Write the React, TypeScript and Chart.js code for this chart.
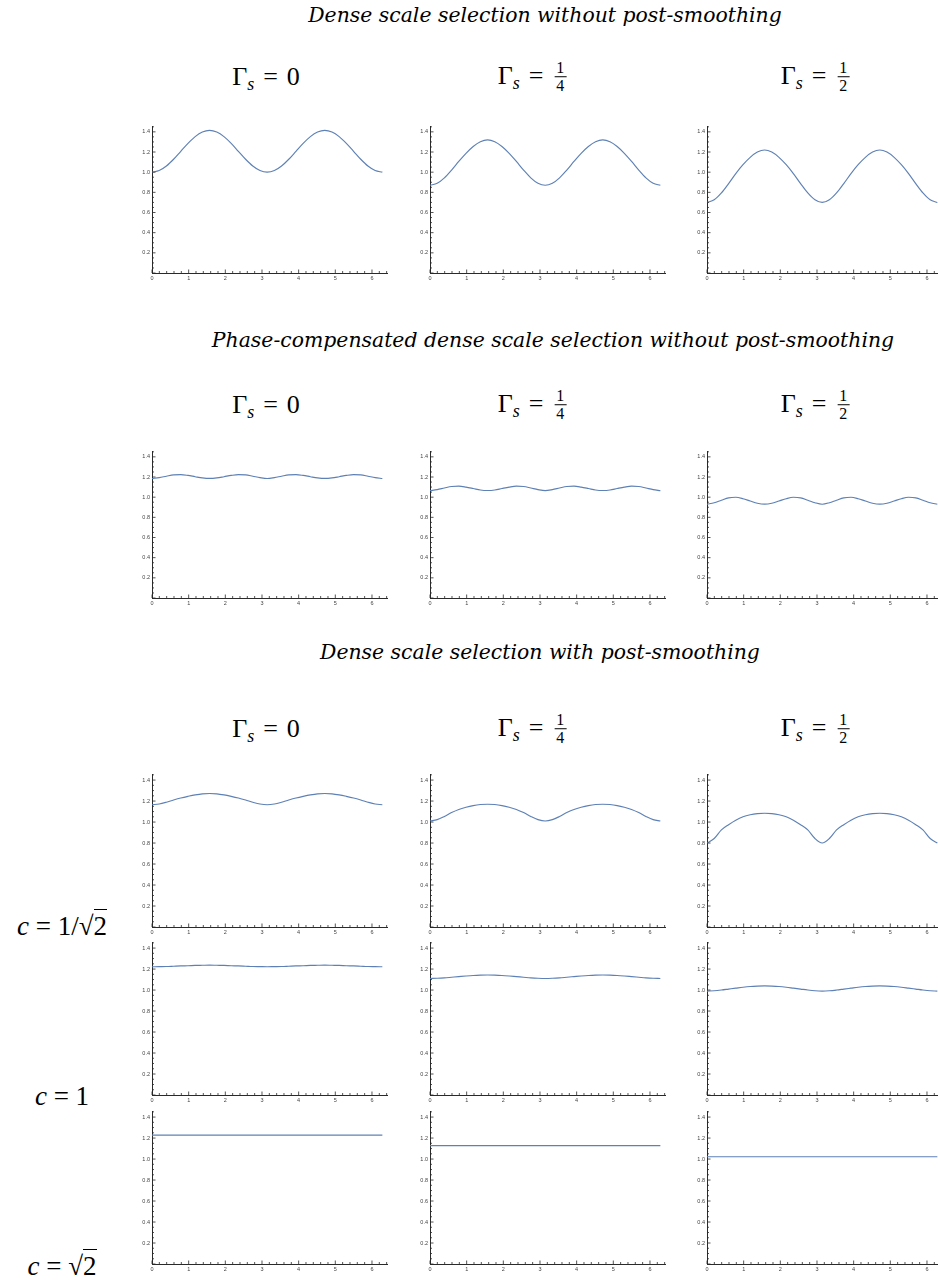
import React, { useEffect, useRef } from "react";
import { Chart, registerables } from "chart.js";

Chart.register(...registerables);

// ---------- data ----------
const THETA = [
  0, 0.196, 0.393, 0.589, 0.785, 0.982, 1.178, 1.374, 1.571, 1.767, 1.963, 2.16, 2.356, 2.553, 2.749, 2.945,
  3.142, 3.338, 3.534, 3.731, 3.927, 4.123, 4.32, 4.516, 4.712, 4.909, 5.105, 5.301, 5.498, 5.694, 5.89, 6.087, 6.283,
];

const X_TICKS = [0, 1, 2, 3, 4, 5, 6];
const X_TICK_LABELS = ["0", "1", "2", "3", "4", "5", "6"];
const Y_TICKS = [0.2, 0.4, 0.6, 0.8, 1.0, 1.2, 1.4];
const Y_TICK_LABELS = ["0.2", "0.4", "0.6", "0.8", "1.0", "1.2", "1.4"];

// Dense scale selection without post-smoothing
const R1_G0 = [1.0, 1.016, 1.061, 1.128, 1.207, 1.286, 1.353, 1.398, 1.414, 1.398, 1.353, 1.286, 1.207, 1.128, 1.061, 1.016, 1.0, 1.016, 1.061, 1.128, 1.207, 1.286, 1.353, 1.398, 1.414, 1.398, 1.353, 1.286, 1.207, 1.128, 1.061, 1.016, 1.0];
const R1_G1 = [0.87, 0.89, 0.944, 1.021, 1.106, 1.187, 1.255, 1.302, 1.32, 1.302, 1.255, 1.187, 1.106, 1.021, 0.944, 0.89, 0.87, 0.89, 0.944, 1.021, 1.106, 1.187, 1.255, 1.302, 1.32, 1.302, 1.255, 1.187, 1.106, 1.021, 0.944, 0.89, 0.87];
const R1_G2 = [0.7, 0.726, 0.794, 0.887, 0.986, 1.074, 1.147, 1.199, 1.22, 1.199, 1.147, 1.074, 0.986, 0.887, 0.794, 0.726, 0.7, 0.726, 0.794, 0.887, 0.986, 1.074, 1.147, 1.199, 1.22, 1.199, 1.147, 1.074, 0.986, 0.887, 0.794, 0.726, 0.7];

// Phase-compensated dense scale selection without post-smoothing
const R2_G0 = [1.185, 1.194, 1.208, 1.221, 1.224, 1.216, 1.203, 1.191, 1.186, 1.191, 1.203, 1.216, 1.224, 1.221, 1.208, 1.194, 1.185, 1.194, 1.208, 1.221, 1.224, 1.216, 1.203, 1.191, 1.186, 1.191, 1.203, 1.216, 1.224, 1.221, 1.208, 1.194, 1.185];
const R2_G1 = [1.065, 1.075, 1.091, 1.106, 1.109, 1.1, 1.086, 1.071, 1.066, 1.071, 1.086, 1.1, 1.109, 1.106, 1.091, 1.075, 1.065, 1.075, 1.091, 1.106, 1.109, 1.1, 1.086, 1.071, 1.066, 1.071, 1.086, 1.1, 1.109, 1.106, 1.091, 1.075, 1.065];
const R2_G2 = [0.93, 0.945, 0.97, 0.993, 0.999, 0.985, 0.962, 0.94, 0.931, 0.94, 0.962, 0.985, 0.999, 0.993, 0.97, 0.945, 0.93, 0.945, 0.97, 0.993, 0.999, 0.985, 0.962, 0.94, 0.931, 0.94, 0.962, 0.985, 0.999, 0.993, 0.97, 0.945, 0.93];

// Dense scale selection with post-smoothing, c = 1/sqrt(2)
const R3A_G0 = [1.165, 1.172, 1.189, 1.21, 1.229, 1.245, 1.259, 1.269, 1.272, 1.269, 1.259, 1.245, 1.229, 1.21, 1.189, 1.172, 1.165, 1.172, 1.189, 1.21, 1.229, 1.245, 1.259, 1.269, 1.272, 1.269, 1.259, 1.245, 1.229, 1.21, 1.189, 1.172, 1.165];
const R3A_G1 = [1.01, 1.023, 1.053, 1.09, 1.12, 1.141, 1.157, 1.167, 1.17, 1.167, 1.157, 1.141, 1.12, 1.09, 1.053, 1.023, 1.01, 1.023, 1.053, 1.09, 1.12, 1.141, 1.157, 1.167, 1.17, 1.167, 1.157, 1.141, 1.12, 1.09, 1.053, 1.023, 1.01];
const R3A_G2 = [0.8, 0.843, 0.925, 0.975, 1.018, 1.05, 1.069, 1.08, 1.084, 1.08, 1.069, 1.05, 1.018, 0.975, 0.925, 0.843, 0.8, 0.843, 0.925, 0.975, 1.018, 1.05, 1.069, 1.08, 1.084, 1.08, 1.069, 1.05, 1.018, 0.975, 0.925, 0.843, 0.8];

// c = 1
const R3B_G0 = [1.222, 1.223, 1.224, 1.227, 1.23, 1.232, 1.235, 1.236, 1.237, 1.236, 1.235, 1.232, 1.23, 1.227, 1.224, 1.223, 1.222, 1.223, 1.224, 1.227, 1.23, 1.232, 1.235, 1.236, 1.237, 1.236, 1.235, 1.232, 1.23, 1.227, 1.224, 1.223, 1.222];
const R3B_G1 = [1.11, 1.112, 1.116, 1.122, 1.128, 1.134, 1.139, 1.142, 1.143, 1.142, 1.139, 1.134, 1.128, 1.122, 1.116, 1.112, 1.11, 1.112, 1.116, 1.122, 1.128, 1.134, 1.139, 1.142, 1.143, 1.142, 1.139, 1.134, 1.128, 1.122, 1.116, 1.112, 1.11];
const R3B_G2 = [0.99, 0.993, 1.0, 1.009, 1.018, 1.027, 1.034, 1.038, 1.04, 1.038, 1.034, 1.027, 1.018, 1.009, 1.0, 0.993, 0.99, 0.993, 1.0, 1.009, 1.018, 1.027, 1.034, 1.038, 1.04, 1.038, 1.034, 1.027, 1.018, 1.009, 1.0, 0.993, 0.99];

// c = sqrt(2)
const R3C_G0 = [1.228, 1.228, 1.228, 1.228, 1.228, 1.228, 1.228, 1.228, 1.228, 1.228, 1.228, 1.228, 1.228, 1.228, 1.228, 1.228, 1.228, 1.228, 1.228, 1.228, 1.228, 1.228, 1.228, 1.228, 1.228, 1.228, 1.228, 1.228, 1.228, 1.228, 1.228, 1.228, 1.228];
const R3C_G1 = [1.128, 1.128, 1.128, 1.128, 1.128, 1.128, 1.128, 1.128, 1.128, 1.128, 1.128, 1.128, 1.128, 1.128, 1.128, 1.128, 1.128, 1.128, 1.128, 1.128, 1.128, 1.128, 1.128, 1.128, 1.128, 1.128, 1.128, 1.128, 1.128, 1.128, 1.128, 1.128, 1.128];
const R3C_G2 = [1.022, 1.022, 1.022, 1.022, 1.022, 1.022, 1.022, 1.022, 1.022, 1.022, 1.022, 1.022, 1.022, 1.022, 1.022, 1.022, 1.022, 1.022, 1.022, 1.022, 1.022, 1.022, 1.022, 1.022, 1.022, 1.022, 1.022, 1.022, 1.022, 1.022, 1.022, 1.022, 1.022];

const SECTION_TITLES = [
  "Dense scale selection without post-smoothing",
  "Phase-compensated dense scale selection without post-smoothing",
  "Dense scale selection with post-smoothing",
];

// ---------- layout ----------
const X_MAX = 6.41;
const Y_MAX = 1.455;
const PX_PER_X = 36.67;
const COL_LEFT = [152.3, 429.8, 707.3];
const ROW_BOTTOM = [273.3, 598.3, 926.7, 1095, 1264];
const ROW_PX_PER_Y = [102, 102, 105.5, 105.5, 106];
const ROW_SERIES = [
  [R1_G0, R1_G1, R1_G2],
  [R2_G0, R2_G1, R2_G2],
  [R3A_G0, R3A_G1, R3A_G2],
  [R3B_G0, R3B_G1, R3B_G2],
  [R3C_G0, R3C_G1, R3C_G2],
];

const PAD_L = 22;
const PAD_R = 4;
const PAD_T = 4;
const PAD_B = 12;
const AXIS_COLOR = "#2a2a2a";
const LINE_COLOR = "#5E81B5";

const inwardTicks = {
  id: "inwardTicks",
  afterDraw(chart: any) {
    const { ctx, scales } = chart;
    const xs = scales.x;
    const ys = scales.y;
    const x0 = xs.getPixelForValue(0);
    const y0 = ys.getPixelForValue(0);
    ctx.save();
    ctx.strokeStyle = AXIS_COLOR;
    ctx.lineWidth = 0.8;
    ctx.beginPath();
    for (let k = 0; k <= 32; k++) {
      const v = k * 0.2;
      if (v > X_MAX) break;
      const px = xs.getPixelForValue(v);
      const len = k % 5 === 0 ? 3.5 : 2;
      ctx.moveTo(px, y0);
      ctx.lineTo(px, y0 - len);
    }
    for (let k = 0; k <= 29; k++) {
      const v = k * 0.05;
      if (v > Y_MAX) break;
      const py = ys.getPixelForValue(v);
      const len = k % 4 === 0 ? 3.5 : 2;
      ctx.moveTo(x0, py);
      ctx.lineTo(x0 + len, py);
    }
    ctx.stroke();
    ctx.restore();
  },
};

function Panel({ series, left, bottom, pxPerY }: { series: number[]; left: number; bottom: number; pxPerY: number }) {
  const ref = useRef<HTMLCanvasElement>(null);
  const W = Math.round(X_MAX * PX_PER_X);
  const H = Math.round(Y_MAX * pxPerY);
  const cw = W + PAD_L + PAD_R;
  const ch = H + PAD_T + PAD_B;
  const canvasLeft = Math.round(left - PAD_L);
  const canvasTop = Math.round(bottom - H - PAD_T);

  useEffect(() => {
    const tickFont = { size: 5.5, family: '"Liberation Sans", Arial, sans-serif' };
    const chart = new Chart(ref.current as HTMLCanvasElement, {
      type: "line",
      data: {
        datasets: [
          {
            data: THETA.map((t, i) => ({ x: t, y: series[i] })),
            borderColor: LINE_COLOR,
            borderWidth: 1.15,
            pointRadius: 0,
            cubicInterpolationMode: "monotone",
            fill: false,
          },
        ],
      },
      options: {
        responsive: false,
        maintainAspectRatio: false,
        animation: false,
        events: [],
        layout: { padding: { left: 0, right: PAD_R, top: PAD_T, bottom: 0 } },
        plugins: { legend: { display: false }, tooltip: { enabled: false }, title: { display: false } },
        scales: {
          x: {
            type: "linear",
            min: 0,
            max: X_MAX,
            grid: { display: false, drawTicks: false },
            border: { display: true, color: AXIS_COLOR, width: 1 },
            afterBuildTicks: (s: any) => {
              s.ticks = X_TICKS.map((v) => ({ value: v }));
            },
            ticks: {
              autoSkip: false,
              maxRotation: 0,
              padding: 2.5,
              color: "#444",
              font: tickFont,
              callback: (_v: any, i: number) => X_TICK_LABELS[i],
            },
            afterFit: (s: any) => {
              s.height = PAD_B;
            },
          },
          y: {
            type: "linear",
            min: 0,
            max: Y_MAX,
            grid: { display: false, drawTicks: false },
            border: { display: true, color: AXIS_COLOR, width: 1 },
            afterBuildTicks: (s: any) => {
              s.ticks = Y_TICKS.map((v) => ({ value: v }));
            },
            ticks: {
              autoSkip: false,
              padding: 2,
              color: "#444",
              font: tickFont,
              callback: (_v: any, i: number) => Y_TICK_LABELS[i],
            },
            afterFit: (s: any) => {
              s.width = PAD_L;
            },
          },
        },
      },
      plugins: [inwardTicks],
    } as any);
    return () => chart.destroy();
  }, [series]);

  return (
    <canvas
      ref={ref}
      width={cw}
      height={ch}
      style={{ position: "absolute", left: canvasLeft, top: canvasTop, width: cw, height: ch }}
    />
  );
}

const MATH_FONT = '"Liberation Serif", "DejaVu Serif", serif';

function Frac({ n, d }: { n: string; d: string }) {
  return (
    <span
      style={{
        display: "inline-flex",
        flexDirection: "column",
        alignItems: "center",
        verticalAlign: "middle",
        fontSize: 16,
        lineHeight: "15px",
        marginLeft: 2,
        position: "relative",
        top: -2,
      }}
    >
      <span style={{ borderBottom: "1px solid #000", padding: "0 2px 1px" }}>{n}</span>
      <span style={{ paddingTop: 1 }}>{d}</span>
    </span>
  );
}

function GammaLabel({ cx, cy, value }: { cx: number; cy: number; value: React.ReactNode }) {
  return (
    <div
      style={{
        position: "absolute",
        left: cx,
        top: cy,
        transform: "translate(-50%, -50%)",
        fontFamily: MATH_FONT,
        fontSize: 26,
        whiteSpace: "nowrap",
        lineHeight: "30px",
        color: "#000",
      }}
    >
      Γ
      <span style={{ fontStyle: "italic", fontSize: 18, position: "relative", top: 5 }}>s</span>
      <span style={{ margin: "0 9px" }}>=</span>
      {value}
    </div>
  );
}

function Title({ cx, cy, text }: { cx: number; cy: number; text: string }) {
  return (
    <div
      style={{
        position: "absolute",
        left: cx,
        top: cy,
        transform: "translate(-50%, -50%)",
        fontFamily: '"DejaVu Serif", serif',
        fontStyle: "italic",
        fontSize: 20.4,
        whiteSpace: "nowrap",
        color: "#000",
      }}
    >
      {text}
    </div>
  );
}

function Sqrt2() {
  return (
    <span>
      √<span style={{ borderTop: "1.3px solid #000", paddingTop: 1 }}>2</span>
    </span>
  );
}

function CLabel({ cy, children }: { cy: number; children: React.ReactNode }) {
  return (
    <div
      style={{
        position: "absolute",
        left: 4,
        width: 116,
        top: cy,
        transform: "translateY(-50%)",
        textAlign: "center",
        fontFamily: MATH_FONT,
        fontSize: 27,
        whiteSpace: "nowrap",
        lineHeight: "32px",
        color: "#000",
      }}
    >
      {children}
    </div>
  );
}

const TITLE_POS = [
  [545, 15],
  [553, 340],
  [540, 652],
];
const GAMMA_ROW_Y = [78, 406, 730];
const GAMMA_COL_X = [266, 532, 815];

export default function App() {
  const gammaValues = [<span key="0">0</span>, <Frac key="1" n="1" d="4" />, <Frac key="2" n="1" d="2" />];
  return (
    <div
      style={{
        position: "absolute",
        left: 0,
        top: 0,
        width: 938,
        height: 1284,
        overflow: "hidden",
        background: "#fff",
      }}
    >
      {SECTION_TITLES.map((t, i) => (
        <Title key={t} cx={TITLE_POS[i][0]} cy={TITLE_POS[i][1]} text={t} />
      ))}
      {GAMMA_ROW_Y.map((gy) =>
        GAMMA_COL_X.map((gx, j) => <GammaLabel key={`${gy}-${j}`} cx={gx} cy={gy} value={gammaValues[j]} />)
      )}
      {ROW_SERIES.map((row, r) =>
        row.map((s, c) => (
          <Panel key={`${r}-${c}`} series={s} left={COL_LEFT[c]} bottom={ROW_BOTTOM[r]} pxPerY={ROW_PX_PER_Y[r]} />
        ))
      )}
      <CLabel cy={926}>
        <i>c</i> = 1/<Sqrt2 />
      </CLabel>
      <CLabel cy={1096}>
        <i>c</i> = 1
      </CLabel>
      <CLabel cy={1266}>
        <i>c</i> = <Sqrt2 />
      </CLabel>
    </div>
  );
}
